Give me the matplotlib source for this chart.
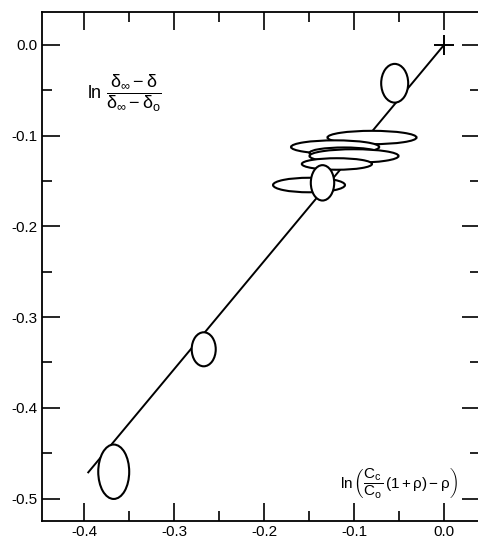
import matplotlib
matplotlib.use("Agg")
import matplotlib.pyplot as plt
from matplotlib.patches import Ellipse
from matplotlib.ticker import MultipleLocator

plt.rcParams['font.family'] = ['Liberation Sans', 'DejaVu Sans']
plt.rcParams['mathtext.fontset'] = 'custom'
plt.rcParams['mathtext.rm'] = 'Liberation Sans'
plt.rcParams['mathtext.it'] = 'Liberation Sans'
plt.rcParams['mathtext.sf'] = 'Liberation Sans'
plt.rcParams['mathtext.default'] = 'rm'

# ---- data ----
ell_x = [-0.0548, -0.080, -0.121, -0.111, -0.100, -0.119, -0.150, -0.135, -0.267, -0.367]
ell_y = [-0.0422, -0.102, -0.1125, -0.119, -0.1224, -0.1312, -0.1544, -0.152, -0.3355, -0.4705]
ell_w = [0.030, 0.099, 0.098, 0.077, 0.099, 0.078, 0.080, 0.026, 0.0267, 0.0344]
ell_h = [0.0427, 0.0147, 0.0147, 0.012, 0.0149, 0.0127, 0.016, 0.039, 0.0375, 0.060]

fit_x = [-0.396, 0.0]
fit_y = [-0.472, 0.0]

origin_x = [0.0]
origin_y = [0.0]

xticks = [-0.4, -0.3, -0.2, -0.1, 0.0]
xticklabels = ['-0.4', '-0.3', '-0.2', '-0.1', '0.0']
yticks = [0.0, -0.1, -0.2, -0.3, -0.4, -0.5]
yticklabels = ['0.0', '-0.1', '-0.2', '-0.3', '-0.4', '-0.5']

# ---- figure ----
W, H = 478, 541
fig = plt.figure(figsize=(W / 100, H / 100), dpi=100)
ax = fig.add_axes([42 / W, (H - 521) / H, (480 - 42) / W, (521 - 11.5) / H])

ax.set_xlim(-0.4467, 0.04)
ax.set_ylim(-0.5248, 0.0369)

ax.plot(fit_x, fit_y, color='black', lw=1.4, solid_capstyle='butt')
ax.plot(origin_x, origin_y, marker='+', color='black', ms=15, mew=1.4, ls='none')

for x, y, w, h in zip(ell_x, ell_y, ell_w, ell_h):
    ax.add_patch(Ellipse((x, y), w, h, facecolor='white', edgecolor='black', lw=1.5, zorder=3))

ax.set_xticks(xticks)
ax.set_xticklabels(xticklabels)
ax.set_yticks(yticks)
ax.set_yticklabels(yticklabels)
ax.xaxis.set_minor_locator(MultipleLocator(0.05))
ax.yaxis.set_minor_locator(MultipleLocator(0.05))

ax.tick_params(which='both', direction='in', top=True, right=True, width=1.2,
               labelsize=11, pad=3)
ax.tick_params(which='major', length=13)
ax.tick_params(which='minor', length=7.5)

for s in ax.spines.values():
    s.set_linewidth(1.3)

ax.text(-0.397, -0.053, r'$\ln\,\dfrac{\delta_{\infty}-\delta}{\delta_{\infty}-\delta_{o}}$',
        fontsize=13, ha='left', va='center')
ax.text(-0.1156, -0.483, r'$\ln\left(\dfrac{C_c}{C_o}\,(1+\rho)-\rho\right)$',
        fontsize=11, ha='left', va='center')

fig.savefig('out.png', dpi=100)
